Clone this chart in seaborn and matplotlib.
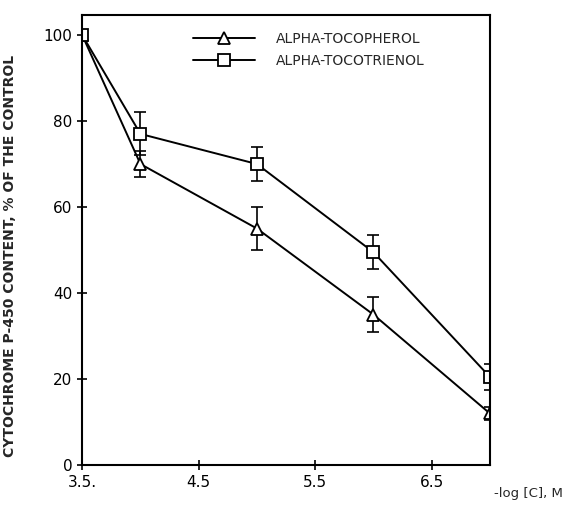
import matplotlib
matplotlib.use("Agg")
import matplotlib.pyplot as plt
import seaborn as sns
import pandas as pd
import numpy as np

# ---- data ----
conc = [3.5, 4.0, 5.0, 6.0, 7.0]
tocopherol = [100, 70, 55, 35, 12]
tocopherol_err = [0, 3, 5, 4, 1.5]
tocotrienol = [100, 77, 70, 49.5, 20.5]
tocotrienol_err = [0, 5, 4, 4, 3]
series_names = ["ALPHA-TOCOPHEROL", "ALPHA-TOCOTRIENOL"]
xtick_vals = [3.5, 4.5, 5.5, 6.5]
xtick_labels = ["3.5.", "4.5", "5.5", "6.5"]
ytick_vals = [0, 20, 40, 60, 80, 100]

df = pd.DataFrame({
    "x": conc * 2,
    "y": tocopherol + tocotrienol,
    "err": tocopherol_err + tocotrienol_err,
    "series": [series_names[0]] * len(conc) + [series_names[1]] * len(conc),
})

sns.set_style("ticks")
plt.rcParams["font.family"] = ["DejaVu Sans"]

fig = plt.figure(figsize=(5.63, 5.11), dpi=100)
ax = fig.add_axes([0.146, 0.090, 0.724, 0.881])

markers = {series_names[0]: "^", series_names[1]: "s"}
sns.lineplot(data=df, x="x", y="y", style="series", markers=markers, dashes=False,
             color="black", markersize=8, markerfacecolor="white",
             markeredgecolor="black", markeredgewidth=1.3, linewidth=1.4, ax=ax,
             legend=True)

for name in series_names:
    sub = df[df["series"] == name]
    ax.errorbar(sub["x"], sub["y"], yerr=sub["err"], fmt="none", ecolor="black",
                elinewidth=1.2, capsize=4, capthick=1.2, zorder=1)

ax.set_xlim(3.5, 7.0)
ax.set_ylim(0, 104.7)
ax.set_xticks(xtick_vals)
ax.set_xticklabels(xtick_labels, fontsize=11)
ax.set_yticks(ytick_vals)
ax.set_yticklabels([str(v) for v in ytick_vals], fontsize=11)
ax.tick_params(direction="inout", length=7, width=1.2, colors="black")
for s in ax.spines.values():
    s.set_linewidth(1.5)
    s.set_color("black")
ax.set_xlabel("")
ax.set_ylabel("")

fig.text(0.878, 0.035, "-log [C], M", fontsize=9.5, ha="left", va="center")
fig.text(0.018, 0.50, "CYTOCHROME P-450 CONTENT, % OF THE CONTROL", rotation=90,
         fontsize=10, fontweight="bold", ha="center", va="center")

leg = ax.legend(loc="upper left", bbox_to_anchor=(0.24, 0.99), frameon=False,
                handlelength=4.5, fontsize=10, labelspacing=0.6, handletextpad=1.5)
for h in leg.legend_handles:
    h.set_markerfacecolor("white")
    h.set_markeredgecolor("black")
    h.set_color("black")

fig.savefig("out.png", dpi=100)
